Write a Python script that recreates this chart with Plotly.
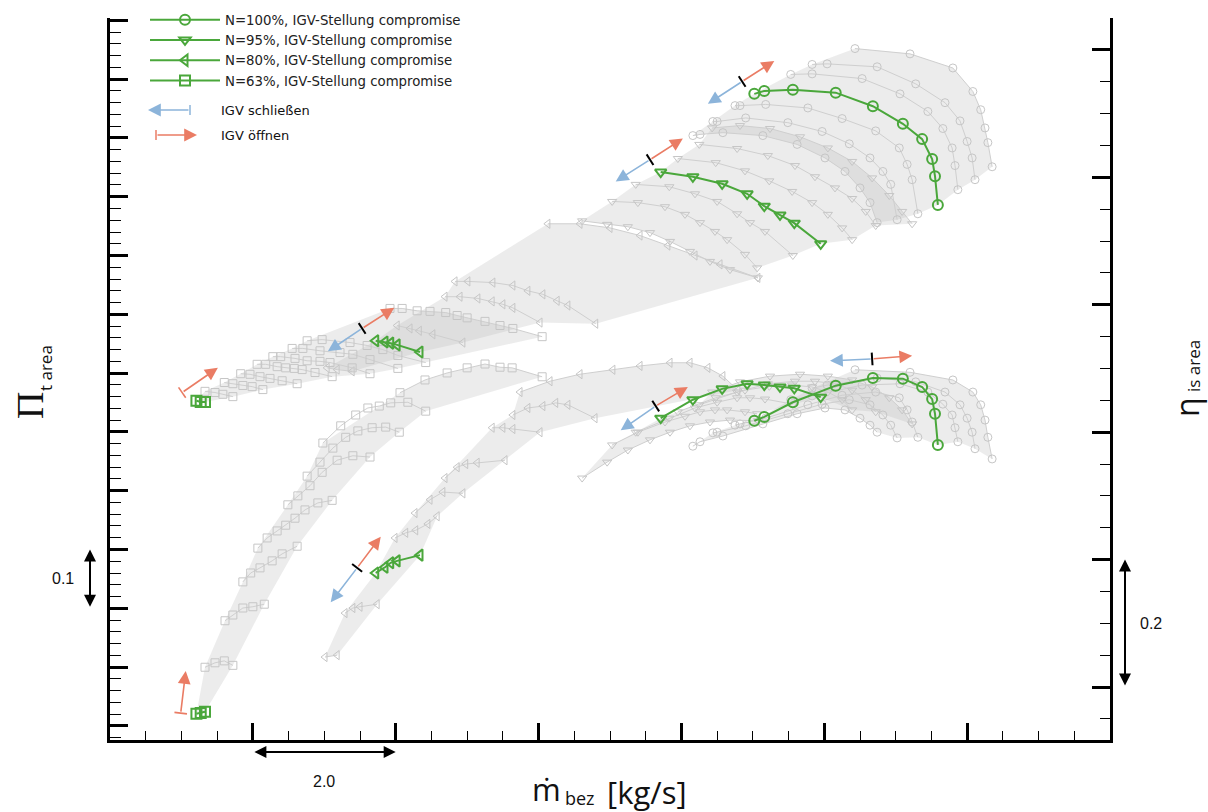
import math
import plotly.graph_objects as go

# ------------------------------------------------------------------
# DATA  (x: mass flow m_bez [kg/s], pi: total pressure ratio, eta: isentropic efficiency)
# ------------------------------------------------------------------
# green "compromise" IGV setting lines
G100_x = [11.02, 11.16, 11.56, 12.16, 12.68, 13.10, 13.37, 13.51, 13.55, 13.59]
G100_pi = [2.075, 2.080, 2.082, 2.077, 2.054, 2.024, 1.998, 1.964, 1.935, 1.886]
G100_eta = [0.418, 0.424, 0.447, 0.473, 0.485, 0.484, 0.471, 0.452, 0.429, 0.380]

G95_x = [9.71, 10.16, 10.57, 10.92, 11.16, 11.38, 11.58, 11.95]
G95_pi = [1.942, 1.934, 1.922, 1.905, 1.884, 1.869, 1.855, 1.820]
G95_eta = [0.422, 0.451, 0.468, 0.476, 0.474, 0.471, 0.469, 0.455]

G80_x = [5.72, 5.85, 5.93, 6.02, 6.34]
G80_pi = [1.655, 1.653, 1.651, 1.648, 1.636]
G80_eta = [0.179, 0.188, 0.195, 0.198, 0.207]

G63_x = [3.21, 3.27, 3.33]
G63_pi = [1.553, 1.551, 1.551]
G63_eta = [-0.042, -0.041, -0.039]

SERIES_NAMES = ["N=100%, IGV-Stellung compromise", "N=95%, IGV-Stellung compromise",
                "N=80%, IGV-Stellung compromise", "N=63%, IGV-Stellung compromise"]

# grey maps: other IGV settings (one sub-list per IGV setting)
N100_x = [
    [12.43, 13.20, 13.80, 14.08, 14.19, 14.25, 14.29, 14.35],
    [11.83, 12.04, 12.74, 13.28, 13.69, 13.90, 14.00, 14.07, 14.11],
    [11.53, 11.83, 12.53, 13.06, 13.45, 13.66, 13.79, 13.83, 13.87],
    [10.75, 10.82, 11.18, 11.77, 12.25, 12.72, 13.05, 13.16, 13.23, 13.31],
    [10.44, 10.50, 10.90, 11.49, 11.97, 12.35, 12.64, 12.82, 12.93, 13.02],
    [10.16, 10.26, 10.58, 11.14, 11.62, 12.01, 12.29, 12.50, 12.64, 12.74],
]
N100_pi = [
    [2.152, 2.143, 2.119, 2.079, 2.048, 2.017, 1.992, 1.951],
    [2.125, 2.126, 2.121, 2.092, 2.060, 2.029, 1.994, 1.966, 1.929],
    [2.108, 2.109, 2.101, 2.075, 2.045, 2.016, 1.983, 1.953, 1.912],
    [2.055, 2.055, 2.057, 2.051, 2.033, 2.012, 1.983, 1.955, 1.929, 1.871],
    [2.028, 2.028, 2.034, 2.026, 2.011, 1.990, 1.966, 1.943, 1.921, 1.861],
    [2.004, 2.006, 2.009, 2.004, 1.989, 1.966, 1.943, 1.915, 1.890, 1.856],
]
N100_eta = [
    [0.498, 0.494, 0.482, 0.463, 0.443, 0.419, 0.392, 0.358],
    [0.469, 0.474, 0.485, 0.479, 0.463, 0.443, 0.422, 0.400, 0.374],
    [0.451, 0.457, 0.474, 0.476, 0.463, 0.444, 0.427, 0.407, 0.385],
    [0.411, 0.413, 0.422, 0.443, 0.458, 0.463, 0.454, 0.435, 0.416, 0.392],
    [0.399, 0.400, 0.410, 0.429, 0.444, 0.451, 0.443, 0.427, 0.411, 0.391],
    [0.378, 0.385, 0.394, 0.413, 0.429, 0.438, 0.435, 0.422, 0.411, 0.400],
]

N95_x = [
    [10.43, 10.82, 11.24, 11.66, 12.05, 12.39, 12.67, 12.91, 13.09, 13.23],
    [10.25, 10.78, 11.21, 11.59, 11.87, 12.15, 12.39, 12.58, 12.72],
    [9.95, 10.48, 10.89, 11.23, 11.55, 11.83, 12.05, 12.25, 12.39],
    [9.36, 9.83, 10.19, 10.50, 10.78, 10.96, 11.17, 11.56],
    [9.03, 9.39, 9.77, 10.05, 10.26, 10.47, 10.64, 10.89, 11.06],
    [8.61, 8.96, 9.25, 9.56, 9.84, 10.12, 10.40, 10.68, 11.07],
]
N95_pi = [
    [2.017, 2.021, 2.016, 2.002, 1.983, 1.960, 1.932, 1.902, 1.875, 1.854],
    [1.989, 1.982, 1.970, 1.953, 1.934, 1.915, 1.897, 1.875, 1.851],
    [1.965, 1.958, 1.944, 1.927, 1.909, 1.890, 1.870, 1.847, 1.827],
    [1.921, 1.917, 1.905, 1.892, 1.871, 1.856, 1.841, 1.800],
    [1.892, 1.890, 1.883, 1.870, 1.856, 1.841, 1.827, 1.802, 1.779],
    [1.859, 1.853, 1.849, 1.839, 1.824, 1.807, 1.790, 1.776, 1.762],
]
N95_eta = [
    [0.463, 0.479, 0.488, 0.491, 0.488, 0.482, 0.471, 0.454, 0.435, 0.413],
    [0.443, 0.463, 0.476, 0.480, 0.480, 0.476, 0.466, 0.451, 0.432],
    [0.432, 0.454, 0.466, 0.472, 0.474, 0.471, 0.463, 0.451, 0.435],
    [0.400, 0.422, 0.438, 0.447, 0.454, 0.454, 0.452, 0.444],
    [0.380, 0.400, 0.416, 0.425, 0.432, 0.435, 0.435, 0.432, 0.429],
    [0.328, 0.353, 0.372, 0.388, 0.400, 0.410, 0.416, 0.419, 0.418],
]

N80_x = [
    [8.13, 8.58, 9.00, 9.42, 9.81, 10.19, 10.54, 11.07],
    [6.83, 7.01, 7.36, 7.64, 7.85, 8.06, 8.26, 8.41, 8.80],
    [6.69, 6.90, 7.15, 7.35, 7.50, 7.64, 8.02],
    [6.02, 6.20, 6.33, 6.52, 6.94],
    [5.04, 5.18, 5.39],
]
N80_pi = [
    [1.854, 1.854, 1.847, 1.834, 1.817, 1.800, 1.785, 1.762],
    [1.756, 1.756, 1.754, 1.749, 1.740, 1.734, 1.723, 1.715, 1.684],
    [1.730, 1.730, 1.727, 1.722, 1.717, 1.711, 1.686],
    [1.681, 1.676, 1.672, 1.666, 1.652],
    [1.609, 1.606, 1.603],
]
N80e_x = [
    [7.74, 8.16, 8.58, 9.04, 9.42, 9.84, 10.12, 10.37, 10.58, 10.79],
    [7.64, 7.85, 8.06, 8.24, 8.41, 8.79],
    [7.35, 7.50, 7.64, 8.02],
    [6.69, 6.86, 6.98, 7.14, 7.53],
    [6.27, 6.48, 6.66, 6.94],
    [5.99, 6.14, 6.28, 6.45, 6.58],
    [5.29, 5.40, 5.50, 5.74],
    [5.01, 5.18],
]
N80e_eta = [
    [0.463, 0.480, 0.491, 0.498, 0.504, 0.509, 0.509, 0.501, 0.488, 0.466],
    [0.427, 0.438, 0.441, 0.446, 0.443, 0.422],
    [0.407, 0.407, 0.405, 0.400],
    [0.328, 0.345, 0.350, 0.352, 0.356],
    [0.273, 0.294, 0.306, 0.304],
    [0.234, 0.242, 0.246, 0.256, 0.268],
    [0.116, 0.124, 0.126, 0.130],
    [0.047, 0.050],
]

N63_x = [
    [5.92, 6.09, 6.30, 6.48, 6.70, 6.86, 7.00, 7.25, 7.46, 7.64, 8.05],
    [4.76, 4.97, 5.36, 5.60, 5.82, 6.03, 6.42],
    [4.55, 4.70, 4.94, 5.22, 5.40, 5.64, 6.03],
    [4.28, 4.39, 4.59, 4.76, 4.94, 5.08, 5.39, 5.64],
    [4.06, 4.18, 4.34, 4.46, 4.58, 4.69, 4.87, 5.11],
    [3.83, 3.96, 4.10, 4.24, 4.41, 4.62],
    [3.60, 3.72, 3.86, 3.99, 4.14],
    [3.33, 3.47, 3.58, 3.72],
]
N63_pi = [
    [1.710, 1.710, 1.706, 1.705, 1.703, 1.698, 1.694, 1.688, 1.681, 1.676, 1.662],
    [1.655, 1.657, 1.652, 1.647, 1.640, 1.630, 1.618],
    [1.642, 1.642, 1.638, 1.635, 1.632, 1.623, 1.608],
    [1.628, 1.628, 1.625, 1.621, 1.620, 1.618, 1.609, 1.599],
    [1.615, 1.615, 1.611, 1.609, 1.608, 1.606, 1.601, 1.594],
    [1.599, 1.598, 1.594, 1.591, 1.587, 1.582],
    [1.584, 1.582, 1.579, 1.577, 1.572],
    [1.569, 1.567, 1.564, 1.560],
]
N63e_x = [
    [6.06, 6.41, 6.72, 7.00, 7.25, 7.46, 7.63, 8.05],
    [4.98, 5.23, 5.44, 5.61, 5.77, 5.93, 6.17, 6.42],
    [4.76, 4.94, 5.12, 5.30, 5.47, 5.67, 5.86, 6.05],
    [4.49, 4.63, 4.80, 4.97, 5.18, 5.40, 5.64],
    [4.07, 4.20, 4.34, 4.46, 4.59, 4.73, 4.91, 5.11],
    [3.86, 3.97, 4.10, 4.27, 4.41, 4.62],
    [3.61, 3.72, 3.86, 4.00, 4.16],
    [3.33, 3.47, 3.60, 3.72],
]
N63e_eta = [
    [0.462, 0.482, 0.493, 0.501, 0.507, 0.502, 0.501, 0.487],
    [0.383, 0.410, 0.427, 0.438, 0.441, 0.446, 0.447, 0.433],
    [0.331, 0.353, 0.375, 0.392, 0.402, 0.407, 0.408, 0.400],
    [0.286, 0.300, 0.316, 0.337, 0.356, 0.363, 0.361],
    [0.218, 0.234, 0.245, 0.254, 0.265, 0.278, 0.289, 0.293],
    [0.165, 0.179, 0.187, 0.198, 0.209, 0.221],
    [0.104, 0.113, 0.124, 0.126, 0.130],
    [0.031, 0.038, 0.041, 0.034],
]

# IGV arrows: centre, "schliessen" tip, "oeffnen" tip
ARR_PI_C = [(10.85, 2.096), (9.56, 1.963), (5.53, 1.676)]
ARR_PI_CLOSE = [(10.37, 2.058), (9.08, 1.926), (5.05, 1.637)]
ARR_PI_OPEN = [(11.30, 2.131), (10.02, 1.999), (5.98, 1.711)]
ARR_ETA_C = [(9.64, 0.441), (12.67, 0.515), (5.46, 0.187)]
ARR_ETA_CLOSE = [(9.15, 0.403), (12.08, 0.512), (5.09, 0.133)]
ARR_ETA_OPEN = [(10.09, 0.471), (13.23, 0.520), (5.79, 0.236)]
# N=63%: only "oeffnen" (start bar -> tip)
OPEN_ONLY_PI = ((3.01, 1.567), (3.51, 1.609))
OPEN_ONLY_ETA = ((2.99, -0.041), (3.06, 0.025))

# axes
X_RANGE = [2.0, 16.0]
PI_RANGE = [0.976, 2.204]
ETA_RANGE = [-0.0832, 1.0502]
SCALE_X = (4.0, 6.0, "2.0")
SCALE_PI = (1.2, 1.3, "0.1")
SCALE_ETA = (0.0, 0.2, "0.2")

# ------------------------------------------------------------------
W, H = 1208, 812
ML, MR, MT, MB = 110, 98, 18, 72
PW, PH = W - ML - MR, H - MT - MB

GREEN = '#4aa73b'
GRAY_LINE = '#cfcfcf'
GRAY_MK = '#c6c6c6'
FILL = 'rgba(185,185,185,0.28)'
BLUE = '#8cb4da'
RED = '#ea7c64'
FONT = 'Liberation Sans, Arial, sans-serif'
LFONT = 'DejaVu Sans, ' + FONT
OFONT = 'Open Sans, ' + FONT
SERIF = 'Liberation Serif, DejaVu Serif, serif'

fig = go.Figure()


def envelope(arcs):
    return (list(arcs[0]) + [a[-1] for a in arcs[1:-1]] + list(arcs[-1])[::-1]
            + [a[0] for a in arcs[-2:0:-1]])


def with_green(gray, green, idx):
    return gray[:idx] + [green] + gray[idx:]


families = [
    (N100_x, N100_pi, G100_x, G100_pi, 3, 'circle-open', 'y'),
    (N95_x, N95_pi, G95_x, G95_pi, 3, 'triangle-down-open', 'y'),
    (N80_x, N80_pi, G80_x, G80_pi, 4, 'triangle-left-open', 'y'),
    (N63_x, N63_pi, G63_x, G63_pi, 8, 'square-open', 'y'),
    (N100_x, N100_eta, G100_x, G100_eta, 3, 'circle-open', 'y2'),
    (N95_x, N95_eta, G95_x, G95_eta, 3, 'triangle-down-open', 'y2'),
    (N80e_x, N80e_eta, G80_x, G80_eta, 6, 'triangle-left-open', 'y2'),
    (N63e_x, N63e_eta, G63_x, G63_eta, 8, 'square-open', 'y2'),
]

# fills
for gx, gy, grx, gry, idx, sym, yax in families:
    ax_ = with_green(gx, grx, idx)
    ay_ = with_green(gy, gry, idx)
    fig.add_trace(go.Scatter(x=envelope(ax_), y=envelope(ay_), yaxis=yax, mode='lines',
                             fill='toself', fillcolor=FILL, line=dict(width=0),
                             hoverinfo='skip', showlegend=False))

# grey lines
for gx, gy, grx, gry, idx, sym, yax in families:
    xs, ys = [], []
    for a, b in zip(gx, gy):
        xs += list(a) + [None]
        ys += list(b) + [None]
    fig.add_trace(go.Scatter(x=xs, y=ys, yaxis=yax, mode='lines+markers',
                             line=dict(color=GRAY_LINE, width=1),
                             marker=dict(symbol=sym, size=8, color=GRAY_MK, line=dict(width=1)),
                             hoverinfo='skip', showlegend=False))

# green lines
greens = [(G100_x, G100_pi, G100_eta, 'circle-open'),
          (G95_x, G95_pi, G95_eta, 'triangle-down-open'),
          (G80_x, G80_pi, G80_eta, 'triangle-left-open'),
          (G63_x, G63_pi, G63_eta, 'square-open')]
for (gx, gp, ge, sym), name in zip(greens, SERIES_NAMES):
    for yy, yax, leg in ((gp, 'y', True), (ge, 'y2', False)):
        fig.add_trace(go.Scatter(x=gx, y=yy, yaxis=yax, mode='lines+markers', name=name,
                                 line=dict(color=GREEN, width=2),
                                 marker=dict(symbol=sym, size=10, color=GREEN, line=dict(width=2)),
                                 showlegend=leg))

sx = PW / (X_RANGE[1] - X_RANGE[0])
sy = {'y': PH / (PI_RANGE[1] - PI_RANGE[0]), 'y2': PH / (ETA_RANGE[1] - ETA_RANGE[0])}

annotations = []


def arrow(tip, tail, yref, color):
    annotations.append(dict(x=tip[0], y=tip[1], ax=tail[0], ay=tail[1], xref='x', yref=yref,
                            axref='x', ayref=yref, text='', showarrow=True, arrowhead=2,
                            arrowsize=1.6, arrowwidth=1.6, arrowcolor=color))


def perp_angle(p0, p1, yref):
    return -math.degrees(math.atan2((p1[1] - p0[1]) * sy[yref], (p1[0] - p0[0]) * sx))


for C, CL, OP, yref in ((ARR_PI_C, ARR_PI_CLOSE, ARR_PI_OPEN, 'y'),
                        (ARR_ETA_C, ARR_ETA_CLOSE, ARR_ETA_OPEN, 'y2')):
    angs = []
    for c, cl, op in zip(C, CL, OP):
        arrow(cl, c, yref, BLUE)
        arrow(op, c, yref, RED)
        angs.append(perp_angle(cl, op, yref))
    fig.add_trace(go.Scatter(x=[c[0] for c in C], y=[c[1] for c in C], yaxis=yref, mode='markers',
                             marker=dict(symbol='line-ns', size=9, angle=angs,
                                         line=dict(width=2, color='black')),
                             hoverinfo='skip', showlegend=False))

for (s, t), yref in ((OPEN_ONLY_PI, 'y'), (OPEN_ONLY_ETA, 'y2')):
    arrow(t, s, yref, RED)
    fig.add_trace(go.Scatter(x=[s[0]], y=[s[1]], yaxis=yref, mode='markers',
                             marker=dict(symbol='line-ns', size=9, angle=[perp_angle(s, t, yref)],
                                         line=dict(width=1.6, color=RED)),
                             hoverinfo='skip', showlegend=False))


def px2paper_x(px):
    return (px - ML) / PW


def py2paper_y(py):
    return (H - MB - py) / PH


def label(text, px, py, size, family=FONT, angle=0, xref='paper', yref='paper', x=None, y=None,
          xanchor='center'):
    annotations.append(dict(x=px2paper_x(px) if x is None else x,
                            y=py2paper_y(py) if y is None else y,
                            xref=xref, yref=yref, text=text, showarrow=False,
                            xanchor=xanchor, yanchor='middle', textangle=angle,
                            font=dict(family=family, size=size, color='#111')))


# legend arrows (IGV schliessen / oeffnen)
annotations.append(dict(x=px2paper_x(148), y=py2paper_y(110), xref='paper', yref='paper',
                        ax=42, ay=0, text='', showarrow=True, arrowhead=2, arrowsize=1.6,
                        arrowwidth=1.6, arrowcolor=BLUE))
annotations.append(dict(x=px2paper_x(197), y=py2paper_y(135), xref='paper', yref='paper',
                        ax=-41, ay=0, text='', showarrow=True, arrowhead=2, arrowsize=1.6,
                        arrowwidth=1.6, arrowcolor=RED))
shapes = [
    dict(type='line', xref='paper', yref='paper', x0=px2paper_x(190), x1=px2paper_x(190),
         y0=py2paper_y(105), y1=py2paper_y(115), line=dict(color=BLUE, width=1.5)),
    dict(type='line', xref='paper', yref='paper', x0=px2paper_x(156), x1=px2paper_x(156),
         y0=py2paper_y(130), y1=py2paper_y(140), line=dict(color=RED, width=1.5)),
]
label('IGV schließen', 219, 110, 13, family=LFONT, xanchor='left')
label('IGV öffnen', 219, 135, 13, family=LFONT, xanchor='left')

# scale bars
annotations.append(dict(x=SCALE_X[1], ax=SCALE_X[0], xref='x', axref='x', y=-0.0166, yref='paper',
                        ayref='pixel', ay=0, text='', showarrow=True, arrowside='end+start',
                        arrowhead=2, startarrowhead=2, arrowsize=1.2, startarrowsize=1.2,
                        arrowwidth=2, arrowcolor='black'))
label(SCALE_X[2], 0, 781, 16, xref='x', x=(SCALE_X[0] + SCALE_X[1]) / 2)
annotations.append(dict(x=-0.02, xref='paper', axref='pixel', ax=0, y=SCALE_PI[1], ay=SCALE_PI[0],
                        yref='y', ayref='y', text='', showarrow=True, arrowside='end+start',
                        arrowhead=2, startarrowhead=2, arrowsize=1.2, startarrowsize=1.2,
                        arrowwidth=2, arrowcolor='black'))
label(SCALE_PI[2], 63, 0, 16, yref='y', y=(SCALE_PI[0] + SCALE_PI[1]) / 2)
annotations.append(dict(x=1.015, xref='paper', axref='pixel', ax=0, y=SCALE_ETA[1], ay=SCALE_ETA[0],
                        yref='y2', ayref='y2', text='', showarrow=True, arrowside='end+start',
                        arrowhead=2, startarrowhead=2, arrowsize=1.2, startarrowsize=1.2,
                        arrowwidth=2, arrowcolor='black'))
label(SCALE_ETA[2], 1151, 0, 16, yref='y2', y=(SCALE_ETA[0] + SCALE_ETA[1]) / 2)

# axis titles (main symbol and subscript placed separately)
label("Π", 30, 406, 38, family=SERIF, angle=-90)
label("t area", 45, 368, 17, family=OFONT, angle=-90)
label("η", 1186, 407, 32, family=OFONT, angle=-90)
label("is area", 1194, 366, 17, family=OFONT, angle=-90)
label("ṁ", 546, 789, 31, family=OFONT)
label("bez", 580, 798, 18, family=OFONT)
label("[kg/s]", 647, 792, 31, family=OFONT)

axis_common = dict(showline=True, linecolor='black', linewidth=3, ticks='inside',
                   tickcolor='black', tickwidth=3, showticklabels=False, showgrid=False,
                   zeroline=False, fixedrange=True)

fig.update_layout(
    width=W, height=H, margin=dict(l=ML, r=MR, t=MT, b=MB, autoexpand=False),
    paper_bgcolor='white', plot_bgcolor='white',
    xaxis=dict(range=X_RANGE, tick0=0, dtick=2, ticklen=17,
               minor=dict(ticks='inside', tick0=0, dtick=0.5, ticklen=9, tickwidth=1,
                          tickcolor='black', showgrid=False), **axis_common),
    yaxis=dict(range=PI_RANGE, tick0=1.0, dtick=0.1, ticklen=18,
               minor=dict(ticks='inside', tick0=1.0, dtick=0.02, ticklen=11, tickwidth=1,
                          tickcolor='black', showgrid=False), **axis_common),
    yaxis2=dict(range=ETA_RANGE, overlaying='y', side='right', tick0=0, dtick=0.2, ticklen=18,
                minor=dict(ticks='inside', tick0=0, dtick=0.05, ticklen=10, tickwidth=1,
                           tickcolor='black', showgrid=False), **axis_common),
    legend=dict(x=px2paper_x(145), y=py2paper_y(4.5), xanchor='left', yanchor='top',
                bgcolor='rgba(0,0,0,0)', font=dict(family=LFONT, size=13.3, color='#222'),
                itemwidth=70, tracegroupgap=0, traceorder='normal'),
    annotations=annotations, shapes=shapes, showlegend=True,
)

fig.write_html("out.html")
